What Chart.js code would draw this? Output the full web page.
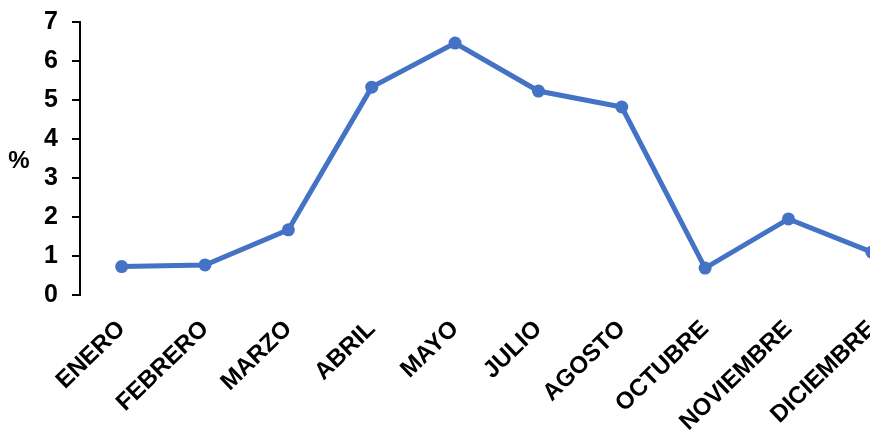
<!DOCTYPE html>
<html>
<head>
<meta charset="utf-8">
<script src="https://cdn.jsdelivr.net/npm/chart.js@4/dist/chart.umd.min.js"></script>
<style>
  html, body { margin: 0; padding: 0; background: #fff; overflow: hidden; }
  #wrap { width: 920px; height: 446px; }
</style>
</head>
<body>
<div id="wrap"><canvas id="c" width="920" height="446"></canvas></div>
<script>
const months = ['ENERO', 'FEBRERO', 'MARZO', 'ABRIL', 'MAYO', 'JULIO', 'AGOSTO', 'OCTUBRE', 'NOVIEMBRE', 'DICIEMBRE'];
const percent = [0.73, 0.77, 1.67, 5.33, 6.46, 5.23, 4.82, 0.69, 1.95, 1.10];
const yTicks = [0, 1, 2, 3, 4, 5, 6, 7];
const yUnit = '%';

const FONT = '"Liberation Sans", Arial, sans-serif';
const BLUE = '#4472C4';

// Unrotated unit label left of the value axis
const unitLabel = {
  id: 'unitLabel',
  afterDraw(chart) {
    const { ctx, chartArea } = chart;
    ctx.save();
    ctx.font = 'bold 24px ' + FONT;
    ctx.fillStyle = '#000';
    ctx.textAlign = 'center';
    ctx.textBaseline = 'middle';
    ctx.fillText(yUnit, 19, (chartArea.top + chartArea.bottom) / 2 + 3);
    ctx.restore();
  }
};

new Chart(document.getElementById('c'), {
  type: 'line',
  data: {
    labels: months,
    datasets: [{
      data: percent,
      borderColor: BLUE,
      backgroundColor: BLUE,
      borderWidth: 5,
      pointRadius: 6.5,
      pointBorderWidth: 0,
      pointBackgroundColor: BLUE,
      tension: 0
    }]
  },
  options: {
    responsive: false,
    animation: false,
    layout: { padding: { top: 22, left: 0, right: 0, bottom: 0 } },
    plugins: { legend: { display: false }, tooltip: { enabled: false } },
    scales: {
      x: {
        offset: true,
        afterFit(scale) { scale.height = 151; },
        grid: { display: false, drawTicks: false },
        border: { display: false },
        ticks: {
          color: '#000',
          font: { family: FONT, size: 24, weight: 'bold' },
          maxRotation: 44,
          minRotation: 44,
          autoSkip: false,
          padding: 20
        }
      },
      y: {
        min: 0,
        max: 7,
        afterBuildTicks(scale) { scale.ticks = yTicks.map(v => ({ value: v })); },
        afterFit(scale) {
          scale.width = 80;
          scale.paddingTop = 0;
          scale.paddingBottom = 0;
        },
        grid: { drawOnChartArea: false, drawTicks: true, tickLength: 8, color: '#000', lineWidth: 2 },
        border: { display: true, color: '#000', width: 2 },
        ticks: {
          color: '#000',
          font: { family: FONT, size: 25, weight: 'bold' },
          padding: 14
        }
      }
    }
  },
  plugins: [unitLabel]
});
</script>
</body>
</html>
